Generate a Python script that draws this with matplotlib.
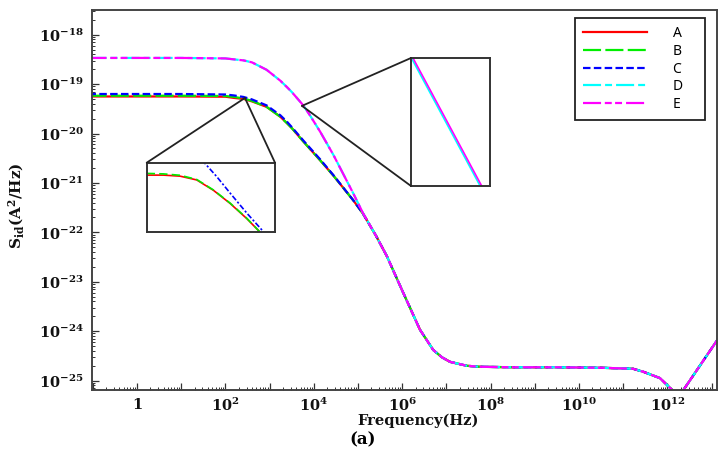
import numpy as np
import matplotlib
matplotlib.use("Agg")
import matplotlib.pyplot as plt
from matplotlib.patches import ConnectionPatch
from matplotlib.ticker import FixedLocator, FuncFormatter, LogLocator, NullFormatter

plt.rcParams['mathtext.fontset'] = 'custom'
plt.rcParams['mathtext.rm'] = 'DejaVu Serif'
plt.rcParams['mathtext.bf'] = 'DejaVu Serif:bold'
plt.rcParams['mathtext.it'] = 'DejaVu Serif:italic'
plt.rcParams['lines.scale_dashes'] = False

# ---------------- data (decade exponents) ----------------
series_names = ['A', 'B', 'C', 'D', 'E']
series_colors = ['#ff0000', '#00ee00', '#0000ff', '#00ffff', '#ff00ff']

log_freq = [-1.1, 0, 1, 2.0, 2.2, 2.41, 2.6, 2.93, 3.24, 3.39, 3.5, 3.76, 3.91, 4.07,
            4.14, 4.44, 4.89, 5.11, 5.4, 5.65, 6.02, 6.40, 6.70, 6.9, 7.08, 7.46, 7.76,
            8.5, 9.5, 10.5, 11.22, 11.45, 11.83, 12.06, 12.26, 12.36, 13.08, 13.2]

tail = [-22.06, -22.48, -23.22, -23.97, -24.38, -24.53, -24.62, -24.70, -24.72,
        -24.73, -24.73, -24.74, -24.76, -24.82, -24.95, -25.15, -25.32, -25.19, -24.24, -24.08]

log_S_A = [-19.25, -19.25, -19.25, -19.255, -19.28, -19.30, -19.35, -19.46, -19.66, -19.79,
           -19.89, -20.16, -20.31, -20.47, -20.54, -20.85, -21.35, -21.62] + tail
log_S_B = [-19.235, -19.235, -19.235, -19.24, -19.26, -19.29, -19.34, -19.46, -19.66, -19.79,
           -19.89, -20.16, -20.31, -20.47, -20.54, -20.85, -21.35, -21.62] + tail
log_S_C = [-19.20, -19.20, -19.20, -19.21, -19.23, -19.26, -19.31, -19.43, -19.63, -19.76,
           -19.87, -20.14, -20.29, -20.45, -20.52, -20.84, -21.35, -21.62] + tail
log_S_D = [-18.47, -18.47, -18.47, -18.48, -18.50, -18.52, -18.56, -18.71, -18.93, -19.06,
           -19.16, -19.43, -19.63, -19.86, -19.96, -20.43, -21.21, -21.61] + tail
log_S_E = list(log_S_D)

# zoomed views (normalised to each inset box)
inset1_x_AB = [0.0, 0.13, 0.26, 0.39, 0.52, 0.65, 0.78, 0.88]
inset1_A = [0.82, 0.82, 0.805, 0.75, 0.60, 0.41, 0.19, 0.0]
inset1_B = [0.845, 0.838, 0.818, 0.757, 0.605, 0.415, 0.195, 0.0]
inset1_x_C = [0.43, 0.545, 0.65, 0.78, 0.91]
inset1_C = [1.04, 0.80, 0.56, 0.27, 0.0]
inset2_x_D = [0.005, 0.875]
inset2_x_E = [0.025, 0.895]
inset2_DE = [1.0, 0.0]

x_tick_exps = list(range(-1, 14))
y_tick_exps = list(range(-25, -17))

# ---------------- styles ----------------
dash_styles = ['-', (0, (13, 3.1)), (0, (5.4, 2.4)), (0, (13, 2.9, 5, 2.9)),
               (0, (13, 2.7, 5, 2.4, 5, 2.9))]

fig = plt.figure(figsize=(7.25, 4.7), dpi=100)
ax = fig.add_axes([92 / 725, 80 / 470, 625 / 725, 380 / 470])

freq = 10.0 ** np.array(log_freq)
all_S = [log_S_A, log_S_B, log_S_C, log_S_D, log_S_E]
for name, col, ls, vals in zip(series_names, series_colors, dash_styles, all_S):
    ax.plot(freq, 10.0 ** np.array(vals), color=col, lw=1.6, linestyle=ls,
            label=name + '\u2002\u2002')

ax.set_xscale('log')
ax.set_yscale('log')
ax.set_xlim(10 ** -1.02, 10 ** 13.12)
ax.set_ylim(10 ** -25.19, 10 ** -17.5)

def xfmt(v, pos):
    e = int(round(np.log10(v)))
    if e % 2 != 0 or e < 0:
        return ''
    if e == 0:
        return r'$\mathbf{1}$'
    return r'$\mathbf{10^{%d}}$' % e

def yfmt(v, pos):
    e = int(round(np.log10(v)))
    return r'$\mathbf{10^{%d}}$' % e

ax.xaxis.set_major_locator(FixedLocator(10.0 ** np.array(x_tick_exps, dtype=float)))
ax.xaxis.set_major_formatter(FuncFormatter(xfmt))
ax.xaxis.set_minor_locator(LogLocator(base=10, subs=np.arange(2, 10), numticks=200))
ax.xaxis.set_minor_formatter(NullFormatter())
ax.yaxis.set_major_locator(FixedLocator(10.0 ** np.array(y_tick_exps, dtype=float)))
ax.yaxis.set_major_formatter(FuncFormatter(yfmt))
ax.yaxis.set_minor_locator(LogLocator(base=10, subs=np.arange(2, 10), numticks=200))
ax.yaxis.set_minor_formatter(NullFormatter())

ax.tick_params(which='both', direction='in', colors='#333333', labelcolor='#111111',
               top=False, right=False)
ax.tick_params(which='major', length=5, width=0.9, labelsize=10.5)
ax.tick_params(axis='x', which='major', pad=5)
ax.tick_params(axis='y', which='major', pad=6)
ax.tick_params(which='minor', length=2.5, width=0.7)
for sp in ax.spines.values():
    sp.set_color('#444444')
    sp.set_linewidth(1.4)

ax.set_xlabel('Frequency(Hz)', fontsize=10.5, family='DejaVu Serif', weight='bold',
              color='#111111')
ax.xaxis.set_label_coords(0.5216, -0.062)
ax.set_ylabel(r'$\mathbf{S_{id}(A^2/Hz)}$', fontsize=11, color='#111111')
ax.yaxis.set_label_coords(-0.105, 0.484)

leg = ax.legend(loc='upper right', bbox_to_anchor=(0.981, 0.978), borderaxespad=0,
                frameon=True, fancybox=False, framealpha=1, edgecolor='#222222',
                handlelength=4.6, handletextpad=1.9, labelspacing=0.2, borderpad=0.55,
                prop={'family': 'Noto Sans', 'weight': 'bold', 'size': 10})
leg.get_frame().set_linewidth(1.3)

# ---------------- insets ----------------
in1 = fig.add_axes([146.7 / 725, (470 - 231.7) / 470, 128.3 / 725, 69 / 470])
in1.plot(inset1_x_AB, inset1_A, color=series_colors[0], lw=1.2, linestyle='-')
in1.plot(inset1_x_AB, inset1_B, color=series_colors[1], lw=1.2, linestyle=(0, (6, 3)))
in1.plot(inset1_x_C, inset1_C, color=series_colors[2], lw=1.2, linestyle=(0, (4, 1.5, 1.5, 1.5)))
in1.set_xlim(0, 1)
in1.set_ylim(0, 1)

in2 = fig.add_axes([411 / 725, (470 - 186) / 470, 79 / 725, 128 / 470])
in2.plot(inset2_x_D, inset2_DE, color=series_colors[3], lw=1.2)
in2.plot(inset2_x_E, inset2_DE, color=series_colors[4], lw=1.2)
in2.set_xlim(0, 1)
in2.set_ylim(0, 1)

for a in (in1, in2):
    a.set_xticks([])
    a.set_yticks([])
    for sp in a.spines.values():
        sp.set_color('#333333')
        sp.set_linewidth(1.4)

apex1 = (10 ** 2.44, 10 ** -19.28)
apex2 = (10 ** 3.73, 10 ** -19.44)
for xyB in [(0, 1), (1, 1)]:
    fig.add_artist(ConnectionPatch(xyA=apex1, coordsA=ax.transData, xyB=xyB,
                                   coordsB=in1.transAxes, color='#222222', lw=1.3))
for xyB in [(0, 1), (0, 0)]:
    fig.add_artist(ConnectionPatch(xyA=apex2, coordsA=ax.transData, xyB=xyB,
                                   coordsB=in2.transAxes, color='#222222', lw=1.3))

fig.text(363 / 725, 1 - 440 / 470, '(a)', ha='center', va='center',
         fontsize=12, family='DejaVu Serif', weight='bold')

fig.savefig('out.png', dpi=100, facecolor='white')
